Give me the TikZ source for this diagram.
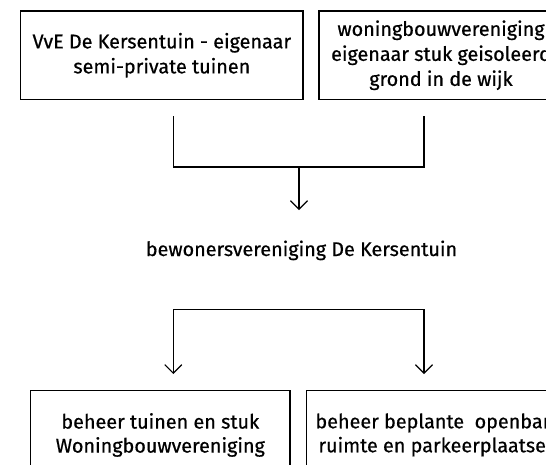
\documentclass[tikz,border=0pt]{standalone}
\usepackage{fontspec}
\setmainfont{Fira Sans}[FakeBold=0.6]
\usetikzlibrary{arrows.meta,positioning}
\newcommand{\orgfont}{\fontsize{19.8}{25}\selectfont}
\newcommand{\taskfont}{\fontsize{19.8}{24}\selectfont}
\tikzset{
  orgbox/.style={draw=black,line width=1.4pt,align=center,inner sep=0pt,minimum height=88.5pt,font=\orgfont},
  link/.style={line width=1.2pt,draw=black},
  barb/.style={-{Straight Barb[length=8.5pt,width=17pt]},line width=1.2pt},
  twobarb/.style={{Straight Barb[length=8.5pt,width=17pt]}-{Straight Barb[length=8.5pt,width=17pt]},line width=1.2pt}
}

\begin{document}
\begin{tikzpicture}[x=1pt,y=-1pt]
\useasboundingbox (0,0) rectangle (546,464);
\clip (0,0) rectangle (546,464);

% owners
\node[orgbox,minimum width=282.3pt] (vve) at (161.85,55.25)
  {VvE De Kersentuin - eigenaar\\semi-private tuinen};
\node[orgbox,minimum width=244pt] (wbv) at (441,55.25)
  {woningbouwvereniging\\eigenaar stuk geisoleerd\\grond in de wijk};

\coordinate (vveout) at (173.3,116);
\coordinate (wbvout) at (424,116);
\coordinate (join)   at (299,167);
\coordinate (joinend) at (299,210);

\draw[link] (vveout) |- (join) -| (wbvout);
\draw[barb] (join) -- (joinend);

% association
\node[font=\orgfont,anchor=base] (bwv) at (301.5,256)
  {bewonersvereniging De Kersentuin};

\coordinate (splitl) at (173.3,309.3);
\coordinate (splitr) at (424,309.3);
\coordinate (tuinin) at (173.3,374);
\coordinate (openin) at (424,374);

\draw[twobarb] (tuinin) -- (splitl) -- (splitr) -- (openin);

% tasks
\node[orgbox,font=\taskfont,minimum width=259.4pt] (tuin) at (160.3,434.95)
  {beheer tuinen en stuk\\Woningbouwvereniging};
\node[orgbox,font=\taskfont,minimum width=263.4pt] (open) at (438,434.95)
  {beheer beplante~ openbare\\ruimte en parkeerplaatsen};

\end{tikzpicture}
\end{document}
